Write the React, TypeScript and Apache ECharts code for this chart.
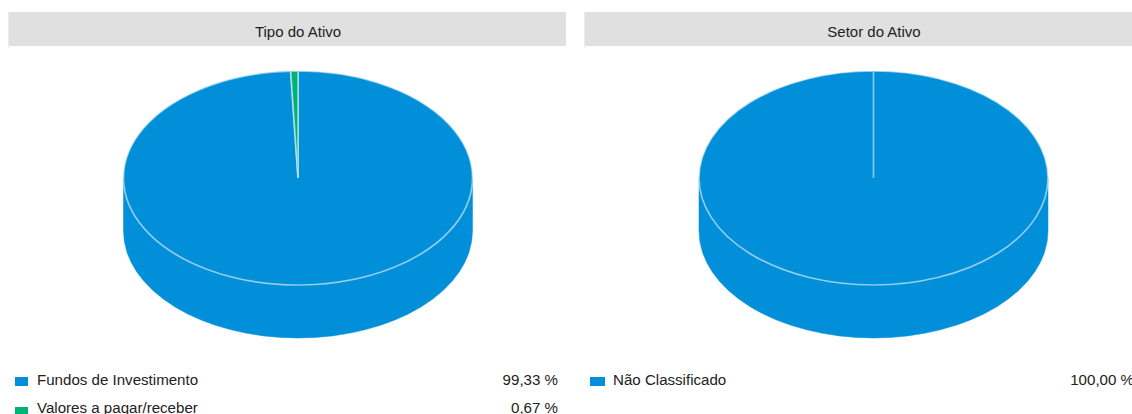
import React, { useEffect, useRef } from "react";
import * as echarts from "echarts";

const typeTitle = "Tipo do Ativo";
const sectorTitle = "Setor do Ativo";
const typeCategories = ["Fundos de Investimento", "Valores a pagar/receber"];
const typeValues = [99.33, 0.67];
const typeLabels = ["99,33 %", "0,67 %"];
const sectorCategories = ["Não Classificado"];
const sectorValues = [100];
const sectorLabels = ["100,00 %"];
const palette = ["#008fd8", "#00b274"];

const FONT = '"Liberation Sans", Arial, sans-serif';
const RX = 174.5;
const RY = 107;
const DEPTH = 53;
const CY = 178;

function pt(cx: number, a: number, dy = 0) {
  return [cx + RX * Math.cos(a), CY + RY * Math.sin(a) + dy];
}

function topPath(cx: number, a0: number, a1: number) {
  const s = pt(cx, a0);
  const e = pt(cx, a1);
  if (a1 - a0 >= Math.PI * 2 - 1e-6) {
    const m = pt(cx, a0 + Math.PI);
    return `M${cx} ${CY}L${s[0]} ${s[1]}A${RX} ${RY} 0 0 1 ${m[0]} ${m[1]}A${RX} ${RY} 0 0 1 ${s[0]} ${s[1]}Z`;
  }
  const large = a1 - a0 > Math.PI ? 1 : 0;
  return `M${cx} ${CY}L${s[0]} ${s[1]}A${RX} ${RY} 0 ${large} 1 ${e[0]} ${e[1]}Z`;
}

function sidePath(cx: number) {
  const s = pt(cx, 0);
  const e = pt(cx, Math.PI);
  const s2 = pt(cx, 0, DEPTH);
  const e2 = pt(cx, Math.PI, DEPTH);
  return `M${s[0]} ${s[1]}A${RX} ${RY} 0 0 1 ${e[0]} ${e[1]}L${e2[0]} ${e2[1]}A${RX} ${RY} 0 0 0 ${s2[0]} ${s2[1]}Z`;
}

function pieSeries(cx: number, values: number[]) {
  const total = values.reduce((a, b) => a + b, 0);
  return {
    type: "custom",
    coordinateSystem: "none",
    silent: true,
    clip: false,
    data: values.map((v) => [v]),
    renderItem: (params: any, api: any) => {
      const i = params.dataIndex;
      const before = values.slice(0, i).reduce((a, b) => a + b, 0);
      const a0 = -Math.PI / 2 + (before / total) * Math.PI * 2;
      const a1 = a0 + (api.value(0) / total) * Math.PI * 2;
      const color = palette[i % palette.length];
      const children: any[] = [];
      if (i === 0) {
        children.push({
          type: "path",
          shape: { pathData: sidePath(cx) },
          style: { fill: color, stroke: color, lineWidth: 0.5 },
        });
      }
      children.push({
        type: "path",
        shape: { pathData: topPath(cx, a0, a1) },
        style: { fill: color, stroke: "rgba(225,240,248,0.6)", lineWidth: 1.7 },
      });
      return { type: "group", children };
    },
  };
}

function panel(x: number, w: number, titleX: number, title: string) {
  return [
    { type: "rect", shape: { x, y: 12, width: w, height: 34 }, style: { fill: "#e0e0e0" } },
    { type: "rect", shape: { x, y: 12, width: 1, height: 36 }, style: { fill: "#ececec" } },
    {
      type: "text",
      x: titleX,
      y: 31,
      style: { text: title, fill: "#222", font: `15px ${FONT}`, textAlign: "center", textVerticalAlign: "middle" },
    },
  ];
}

function legend(swatchX: number, swatchW: number, textX: number, valueX: number, names: string[], labels: string[]) {
  const out: any[] = [];
  names.forEach((name, i) => {
    const y = 379.5 + i * 28;
    out.push({
      type: "rect",
      shape: { x: swatchX, y: 377 + i * 30, width: swatchW, height: 9 },
      style: { fill: palette[i] },
    });
    out.push({
      type: "text",
      x: textX,
      y,
      style: { text: name, fill: "#222", font: `15.1px ${FONT}`, textAlign: "left", textVerticalAlign: "middle" },
    });
    out.push({
      type: "text",
      x: valueX,
      y,
      style: { text: labels[i], fill: "#222", font: `15.1px ${FONT}`, textAlign: "right", textVerticalAlign: "middle" },
    });
  });
  return out;
}

export default function App() {
  const ref = useRef<HTMLDivElement>(null);
  useEffect(() => {
    const chart = echarts.init(ref.current!, undefined, { renderer: "svg" });
    chart.setOption({
      animation: false,
      backgroundColor: "#ffffff",
      series: [pieSeries(298, typeValues), pieSeries(873.5, sectorValues)],
      graphic: {
        elements: [
          ...panel(8, 558, 298, typeTitle),
          ...panel(584, 548, 874, sectorTitle),
          ...legend(15, 13, 37, 558, typeCategories, typeLabels),
          ...legend(590, 15, 613, 1134, sectorCategories, sectorLabels),
        ],
      },
    });
    return () => chart.dispose();
  }, []);
  return <div ref={ref} style={{ position: "fixed", left: 0, top: 0, width: 1132, height: 414 }} />;
}
